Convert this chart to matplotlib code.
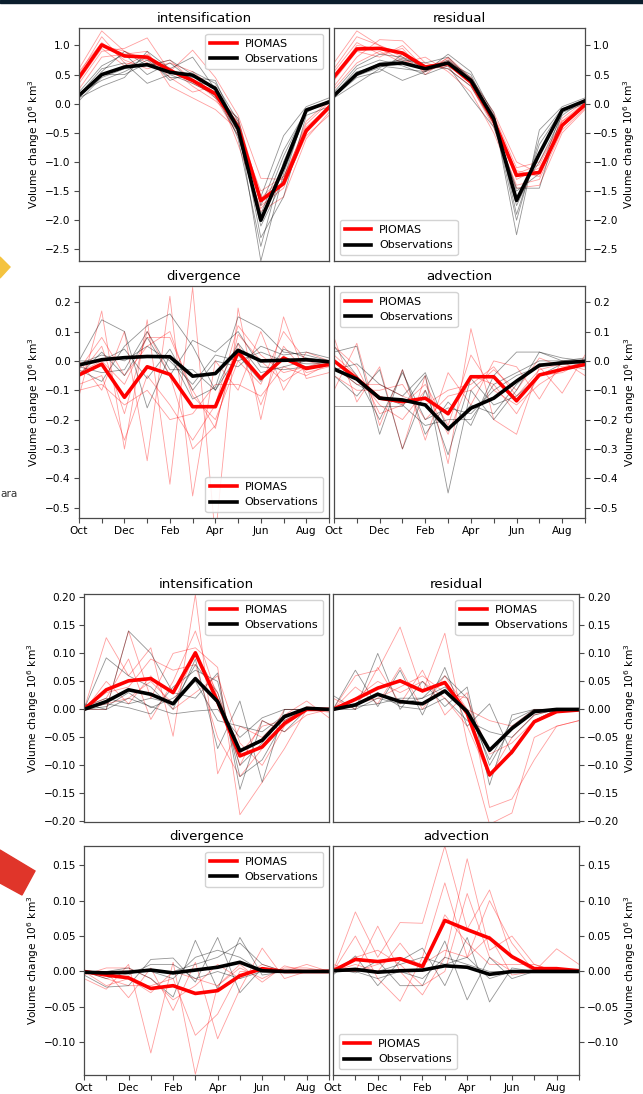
import matplotlib
matplotlib.use("Agg")
import matplotlib.pyplot as plt
from matplotlib.patches import Polygon, Rectangle
import numpy as np

plt.rcParams['font.family'] = ['DejaVu Sans']

W, H = 643, 1094
DPI = 100

# --- months on the x axis -------------------------------------------------
months = ['Oct', 'Nov', 'Dec', 'Jan', 'Feb', 'Mar', 'Apr', 'May', 'Jun', 'Jul', 'Aug', 'Sep']
month_labels = ['Oct', '', 'Dec', '', 'Feb', '', 'Apr', '', 'Jun', '', 'Aug', '']

# --- upper block: thickness budget terms ----------------------------------
int1_piomas = [0.45, 1.01, 0.82, 0.80, 0.57, 0.40, 0.17, -0.40, -1.66, -1.37, -0.46, -0.06]
int1_obs = [0.14, 0.50, 0.63, 0.67, 0.54, 0.49, 0.26, -0.43, -2.00, -1.09, -0.11, 0.03]
int1_piomas_members = [
    [0.60, 1.25, 0.90, 0.70, 0.62, 0.30, 0.05, -0.30, -1.75, -1.45, -0.50, -0.10],
    [0.35, 0.90, 0.95, 1.13, 0.55, 0.92, 0.45, -0.20, -1.28, -1.30, -0.35, 0.02],
    [0.50, 1.15, 0.70, 0.65, 0.75, 0.40, 0.10, -0.55, -1.85, -1.60, -0.60, -0.15],
    [0.25, 0.80, 0.85, 0.90, 0.30, 0.10, -0.10, -0.45, -1.50, -1.25, -0.40, -0.05],
    [0.55, 1.05, 0.75, 0.60, 0.70, 0.55, 0.25, -0.35, -1.70, -1.40, -0.55, -0.20],
    [0.40, 0.95, 0.65, 0.85, 0.45, 0.20, 0.30, -0.70, -1.80, -1.35, -0.30, 0.05],
    [0.45, 1.00, 0.90, 0.75, 0.60, 0.35, 0.15, -0.25, -1.62, -1.25, -0.50, -0.02],
]
int1_obs_members = [
    [0.10, 0.30, 0.45, 0.90, 0.60, 0.80, 0.25, -0.35, -2.70, -1.20, -0.15, 0.05],
    [0.20, 0.65, 0.85, 0.50, 0.70, 0.40, 0.20, -0.50, -1.60, -0.55, -0.05, 0.10],
    [0.05, 0.45, 0.60, 0.80, 0.40, 0.55, 0.35, -0.30, -2.30, -1.60, -0.20, -0.05],
    [0.15, 0.60, 0.70, 0.35, 0.50, 0.35, 0.15, -0.55, -1.90, -0.90, -0.10, 0.02],
    [0.18, 0.40, 0.55, 0.75, 0.45, 0.45, 0.40, -0.45, -2.10, -1.30, -0.08, 0.03],
    [0.12, 0.55, 0.90, 0.65, 0.75, 0.50, 0.10, -0.25, -1.75, -0.80, -0.12, 0.06],
    [0.16, 0.50, 0.50, 0.70, 0.55, 0.38, 0.30, -0.60, -2.45, -1.00, -0.10, 0.00],
]

res1_piomas = [0.46, 0.94, 0.95, 0.87, 0.63, 0.69, 0.37, -0.29, -1.23, -1.18, -0.37, -0.02]
res1_obs = [0.14, 0.51, 0.67, 0.70, 0.60, 0.70, 0.40, -0.26, -1.66, -0.86, -0.11, 0.05]
res1_piomas_members = [
    [0.70, 1.25, 1.00, 0.80, 0.55, 0.75, 0.40, -0.20, -1.10, -1.00, -0.30, 0.02],
    [0.30, 0.80, 1.10, 1.08, 0.70, 0.60, 0.30, -0.40, -1.40, -1.30, -0.45, -0.08],
    [0.55, 1.05, 0.85, 0.95, 0.50, 0.80, 0.45, -0.15, -1.00, -1.20, -0.25, 0.05],
    [0.25, 0.70, 0.90, 0.70, 0.80, 0.55, 0.20, -0.50, -1.45, -1.40, -0.50, -0.10],
    [0.60, 1.15, 1.00, 0.85, 0.65, 0.70, 0.35, -0.30, -1.30, -1.10, -0.40, 0.00],
    [0.40, 0.90, 0.80, 1.00, 0.60, 0.78, 0.42, -0.25, -1.20, -1.05, -0.30, -0.05],
    [0.45, 1.00, 0.95, 0.75, 0.58, 0.65, 0.38, -0.35, -1.15, -1.25, -0.35, 0.02],
]
res1_obs_members = [
    [0.10, 0.35, 0.60, 0.40, 0.55, 0.85, 0.55, -0.20, -2.25, -0.45, -0.05, 0.10],
    [0.20, 0.65, 0.85, 0.80, 0.65, 0.60, 0.30, -0.35, -1.45, -1.45, -0.15, 0.00],
    [0.12, 0.45, 0.55, 0.85, 0.60, 0.75, 0.45, -0.15, -1.90, -0.70, -0.10, 0.05],
    [0.15, 0.60, 0.75, 0.65, 0.50, 0.65, 0.10, -0.40, -1.60, -1.00, -0.20, 0.08],
    [0.18, 0.50, 0.70, 0.75, 0.70, 0.80, 0.40, -0.25, -2.00, -0.60, -0.08, 0.03],
    [0.10, 0.55, 0.65, 0.60, 0.55, 0.70, 0.50, -0.30, -1.50, -1.20, -0.12, 0.05],
    [0.14, 0.48, 0.62, 0.78, 0.62, 0.68, 0.35, -0.22, -1.75, -0.90, -0.10, 0.04],
]

div1_piomas = [-0.048, -0.011, -0.124, -0.020, -0.046, -0.156, -0.156, 0.030, -0.060, 0.010, -0.026, -0.012]
div1_obs = [-0.014, 0.004, 0.011, 0.015, 0.014, -0.052, -0.043, 0.036, 0.000, 0.002, 0.004, -0.003]
div1_piomas_members = [
    [-0.12, 0.17, -0.30, 0.14, -0.42, 0.25, -0.60, 0.18, -0.20, 0.15, -0.06, -0.04],
    [0.00, -0.10, 0.10, -0.34, 0.22, -0.46, 0.00, -0.10, 0.10, -0.10, 0.03, 0.00],
    [-0.05, 0.05, -0.18, 0.10, -0.05, -0.30, -0.22, 0.06, -0.15, 0.05, -0.04, -0.02],
    [-0.08, -0.05, -0.27, -0.05, -0.15, -0.27, -0.15, 0.12, 0.02, -0.04, -0.02, -0.01],
    [-0.03, 0.08, -0.05, 0.05, 0.10, -0.12, -0.20, 0.00, -0.08, 0.10, 0.00, -0.02],
    [-0.10, -0.08, -0.15, -0.10, -0.20, -0.18, -0.08, -0.08, -0.12, -0.02, -0.05, -0.01],
    [-0.04, 0.00, -0.08, 0.08, 0.08, -0.10, -0.23, 0.09, 0.00, -0.07, -0.02, 0.00],
]
div1_obs_members = [
    [0.00, 0.14, 0.10, -0.16, 0.02, -0.13, -0.09, 0.15, 0.11, 0.03, 0.02, 0.00],
    [-0.03, -0.07, 0.05, 0.12, 0.16, 0.05, -0.10, 0.02, -0.07, 0.04, 0.01, 0.00],
    [-0.05, 0.03, -0.05, 0.08, -0.05, 0.07, 0.03, 0.10, -0.02, -0.03, -0.02, -0.01],
    [0.00, 0.00, 0.04, -0.06, 0.04, -0.10, 0.00, -0.02, 0.05, 0.02, 0.03, 0.01],
    [-0.02, -0.04, -0.03, 0.10, -0.03, -0.03, -0.10, 0.06, -0.04, -0.02, 0.00, 0.00],
    [-0.01, 0.02, 0.00, 0.05, 0.00, -0.08, 0.02, 0.00, 0.03, 0.00, -0.01, -0.01],
]

adv1_piomas = [0.000, -0.060, -0.127, -0.139, -0.127, -0.180, -0.054, -0.054, -0.136, -0.048, -0.029, -0.012]
adv1_obs = [-0.028, -0.062, -0.127, -0.133, -0.150, -0.232, -0.161, -0.127, -0.069, -0.015, -0.007, -0.001]
adv1_piomas_members = [
    [0.08, -0.14, -0.02, -0.30, -0.05, -0.35, 0.11, -0.20, -0.25, -0.02, -0.11, 0.02],
    [-0.10, 0.06, -0.22, -0.03, -0.27, -0.04, -0.15, 0.00, -0.02, -0.13, 0.00, -0.05],
    [0.02, -0.05, -0.15, -0.20, -0.10, -0.25, -0.05, -0.08, -0.18, -0.05, -0.04, 0.00],
    [-0.05, -0.10, -0.10, -0.08, -0.20, -0.12, -0.10, -0.03, -0.10, 0.01, -0.02, -0.02],
    [0.05, -0.02, -0.18, -0.15, -0.08, -0.22, 0.02, -0.10, -0.15, -0.08, -0.03, 0.00],
    [-0.02, -0.08, -0.08, -0.12, -0.15, -0.10, -0.08, -0.02, -0.12, -0.03, -0.01, -0.03],
]
adv1_obs_members = [
    [-0.155, -0.155, -0.155, -0.155, -0.05, -0.45, -0.10, -0.20, -0.10, 0.03, 0.01, 0.00],
    [0.03, 0.05, -0.25, -0.03, -0.25, -0.14, -0.22, -0.05, 0.03, 0.03, 0.00, 0.01],
    [-0.05, -0.12, -0.03, -0.30, -0.10, -0.32, -0.06, -0.15, -0.12, -0.05, -0.01, -0.01],
    [0.05, -0.05, -0.20, -0.04, -0.20, -0.16, -0.18, -0.10, -0.05, -0.02, 0.00, 0.00],
    [-0.03, -0.01, -0.08, -0.12, -0.04, -0.24, -0.15, -0.18, -0.08, -0.01, -0.01, 0.00],
    [-0.02, -0.08, -0.12, -0.15, -0.22, -0.20, -0.20, -0.08, -0.04, 0.00, 0.00, 0.00],
]

# --- lower block: area budget terms ---------------------------------------
int2_piomas = [0.000, 0.035, 0.051, 0.055, 0.030, 0.101, 0.014, -0.083, -0.067, -0.025, 0.000, 0.000]
int2_obs = [0.000, 0.014, 0.035, 0.027, 0.010, 0.055, 0.014, -0.074, -0.055, -0.013, 0.002, 0.000]
int2_piomas_members = [
    [0.000, 0.128, 0.060, 0.110, -0.048, 0.205, -0.115, -0.030, -0.050, -0.010, 0.015, -0.015],
    [0.000, 0.000, 0.140, 0.020, 0.100, 0.110, 0.075, -0.188, -0.130, -0.070, 0.000, 0.000],
    [0.003, 0.020, 0.090, -0.018, 0.050, 0.140, 0.020, -0.100, -0.020, -0.040, -0.010, 0.000],
    [-0.003, 0.050, 0.010, 0.060, 0.000, 0.030, 0.060, -0.060, -0.100, -0.030, 0.000, 0.000],
    [0.000, 0.030, 0.040, 0.090, 0.070, 0.080, -0.050, -0.120, -0.070, 0.000, 0.000, -0.005],
    [0.000, 0.010, 0.020, 0.050, 0.010, 0.100, 0.030, -0.080, -0.030, -0.020, 0.005, 0.000],
]
int2_obs_members = [
    [0.000, 0.092, 0.060, 0.040, 0.000, 0.090, -0.070, 0.015, -0.130, 0.000, 0.000, 0.000],
    [0.010, 0.000, 0.140, 0.100, 0.030, 0.020, 0.065, -0.143, -0.020, -0.040, 0.000, 0.000],
    [0.000, 0.010, 0.003, -0.008, 0.040, 0.070, 0.050, -0.120, -0.090, -0.020, 0.000, 0.000],
    [0.000, 0.000, 0.020, 0.005, -0.008, -0.003, 0.000, -0.050, -0.015, 0.000, 0.000, 0.000],
    [0.005, 0.020, 0.010, 0.020, 0.010, 0.080, 0.030, -0.100, -0.060, -0.010, 0.000, 0.000],
    [0.000, 0.005, 0.030, 0.003, 0.020, 0.050, -0.020, -0.030, -0.040, -0.010, 0.000, 0.000],
]

res2_piomas = [0.000, 0.018, 0.038, 0.051, 0.033, 0.048, -0.007, -0.117, -0.076, -0.022, -0.004, -0.001]
res2_obs = [0.000, 0.008, 0.027, 0.014, 0.010, 0.033, -0.004, -0.073, -0.034, -0.004, 0.000, 0.000]
res2_piomas_members = [
    [0.000, 0.060, 0.070, 0.147, 0.030, 0.136, -0.060, -0.205, -0.185, -0.050, -0.030, -0.020],
    [0.020, 0.000, 0.075, 0.010, 0.070, -0.010, 0.030, -0.175, -0.160, -0.090, -0.030, -0.020],
    [0.000, 0.040, 0.010, 0.075, 0.000, 0.060, 0.000, -0.020, -0.030, 0.000, 0.000, 0.000],
    [0.000, 0.020, 0.050, 0.030, 0.050, 0.020, -0.030, -0.120, -0.050, -0.010, 0.000, 0.000],
    [0.000, 0.010, 0.020, 0.040, 0.060, 0.030, 0.020, -0.080, -0.060, -0.020, 0.000, 0.000],
]
res2_obs_members = [
    [0.025, 0.000, 0.100, 0.000, 0.050, 0.005, 0.040, -0.135, -0.010, 0.000, 0.000, 0.000],
    [0.000, 0.070, 0.005, 0.070, -0.010, 0.075, -0.030, 0.010, -0.080, -0.020, 0.000, 0.000],
    [0.000, 0.000, 0.020, 0.010, 0.020, 0.060, 0.020, -0.100, -0.030, 0.000, 0.000, 0.000],
    [0.000, 0.010, 0.030, 0.005, 0.000, 0.020, -0.020, -0.040, -0.050, -0.010, 0.000, 0.000],
    [0.000, 0.005, 0.010, 0.020, 0.020, 0.040, 0.000, -0.090, -0.020, 0.000, 0.000, 0.000],
]

div2_piomas = [0.000, -0.005, -0.009, -0.024, -0.020, -0.031, -0.027, -0.006, 0.004, 0.000, 0.000, 0.000]
div2_obs = [-0.001, -0.002, -0.001, 0.002, -0.002, 0.002, 0.006, 0.013, 0.001, 0.000, 0.000, 0.000]
div2_piomas_members = [
    [-0.010, -0.025, 0.010, -0.115, 0.013, -0.145, -0.020, 0.010, -0.015, 0.008, 0.000, 0.000],
    [0.000, 0.000, -0.037, 0.005, -0.055, 0.013, -0.095, -0.025, 0.033, -0.010, 0.000, 0.003],
    [0.000, -0.010, -0.020, -0.020, -0.010, -0.090, -0.060, 0.000, 0.000, 0.000, 0.010, 0.000],
    [-0.005, 0.005, 0.005, -0.010, -0.040, -0.020, 0.010, -0.010, 0.010, 0.000, 0.000, 0.000],
    [0.000, -0.020, -0.010, -0.030, 0.000, -0.010, -0.020, 0.005, -0.010, 0.005, 0.005, 0.000],
]
div2_obs_members = [
    [-0.005, -0.022, -0.020, 0.017, 0.019, -0.015, 0.048, -0.030, 0.005, 0.000, 0.000, 0.000],
    [0.000, 0.000, 0.005, -0.010, -0.036, 0.044, -0.025, 0.048, -0.005, 0.000, 0.000, 0.000],
    [0.000, -0.010, 0.000, 0.000, 0.000, 0.010, 0.020, 0.040, 0.010, 0.000, 0.000, 0.000],
    [0.000, 0.000, -0.005, 0.010, 0.010, -0.010, 0.000, -0.010, 0.000, 0.000, 0.000, 0.000],
    [0.000, -0.005, 0.000, 0.000, -0.010, 0.020, 0.030, 0.020, 0.000, 0.000, 0.000, 0.000],
]

adv2_piomas = [0.001, 0.017, 0.014, 0.018, 0.007, 0.072, 0.059, 0.047, 0.021, 0.004, 0.004, 0.001]
adv2_obs = [0.001, 0.003, -0.001, 0.001, 0.002, 0.008, 0.006, -0.004, 0.000, 0.000, 0.000, 0.000]
adv2_piomas_members = [
    [0.000, 0.084, 0.020, 0.069, 0.068, 0.177, 0.060, 0.115, 0.020, 0.000, 0.032, 0.010],
    [0.010, 0.000, 0.064, 0.000, -0.033, 0.020, 0.159, 0.030, 0.050, 0.010, 0.000, 0.000],
    [0.000, 0.050, -0.010, -0.042, 0.020, 0.125, 0.020, 0.100, 0.040, 0.000, 0.000, 0.000],
    [0.000, 0.020, 0.030, 0.010, -0.020, 0.000, 0.110, 0.020, 0.000, 0.000, 0.000, 0.000],
    [0.000, 0.010, 0.000, 0.040, 0.000, 0.080, 0.040, 0.010, 0.010, 0.010, 0.000, 0.000],
    [0.000, 0.000, 0.010, 0.020, 0.010, 0.030, 0.020, 0.050, -0.005, 0.000, 0.000, 0.000],
]
adv2_obs_members = [
    [-0.005, 0.022, -0.020, 0.015, 0.033, -0.020, 0.048, -0.043, 0.005, 0.000, 0.000, 0.000],
    [0.005, -0.002, 0.015, -0.020, -0.020, 0.043, -0.040, 0.020, -0.010, 0.000, 0.000, 0.000],
    [0.000, 0.000, 0.000, 0.010, 0.020, 0.010, 0.020, -0.010, 0.000, 0.000, 0.000, 0.000],
    [0.000, 0.000, -0.010, 0.000, -0.010, 0.020, 0.010, 0.000, 0.000, 0.000, 0.000, 0.000],
]

# --- panel layout (pixel boxes: left, top, right, bottom) -----------------
panels = [
    dict(title='intensification', box=(79, 28, 329, 261), side='left', xlab=False,
         ylim=(-2.7, 1.3), yticks=np.arange(-2.5, 1.01, 0.5), loc='upper right',
         p=int1_piomas, o=int1_obs, pm=int1_piomas_members, om=int1_obs_members),
    dict(title='residual', box=(334, 28, 585, 261), side='right', xlab=False,
         ylim=(-2.7, 1.3), yticks=np.arange(-2.5, 1.01, 0.5), loc='lower left',
         p=res1_piomas, o=res1_obs, pm=res1_piomas_members, om=res1_obs_members),
    dict(title='divergence', box=(79, 286, 329, 518), side='left', xlab=True,
         ylim=(-0.535, 0.255), yticks=np.arange(-0.5, 0.21, 0.1), loc='lower right',
         p=div1_piomas, o=div1_obs, pm=div1_piomas_members, om=div1_obs_members),
    dict(title='advection', box=(334, 286, 585, 518), side='right', xlab=True,
         ylim=(-0.535, 0.255), yticks=np.arange(-0.5, 0.21, 0.1), loc='upper left',
         p=adv1_piomas, o=adv1_obs, pm=adv1_piomas_members, om=adv1_obs_members),
    dict(title='intensification', box=(84, 594, 329, 822), side='left', xlab=False,
         ylim=(-0.201, 0.206), yticks=np.arange(-0.20, 0.201, 0.05), loc='upper right',
         p=int2_piomas, o=int2_obs, pm=int2_piomas_members, om=int2_obs_members),
    dict(title='residual', box=(333, 594, 579, 822), side='right', xlab=False,
         ylim=(-0.201, 0.206), yticks=np.arange(-0.20, 0.201, 0.05), loc='upper right',
         p=res2_piomas, o=res2_obs, pm=res2_piomas_members, om=res2_obs_members),
    dict(title='divergence', box=(84, 846, 329, 1075), side='left', xlab=True,
         ylim=(-0.146, 0.177), yticks=np.arange(-0.10, 0.151, 0.05), loc='upper right',
         p=div2_piomas, o=div2_obs, pm=div2_piomas_members, om=div2_obs_members),
    dict(title='advection', box=(333, 846, 579, 1075), side='right', xlab=True,
         ylim=(-0.146, 0.177), yticks=np.arange(-0.10, 0.151, 0.05), loc='lower left',
         p=adv2_piomas, o=adv2_obs, pm=adv2_piomas_members, om=adv2_obs_members),
]

YLABEL = 'Volume change $10^6$ km$^3$'
SPINE = '#4a4a4a'
TICK_FS = 7.6
x = np.arange(len(months))

fig = plt.figure(figsize=(W / DPI, H / DPI), dpi=DPI)
fig.patch.set_facecolor('white')

for pnl in panels:
    l, t, r, b = pnl['box']
    ax = fig.add_axes([l / W, 1 - b / H, (r - l) / W, (b - t) / H])
    for m in pnl['pm']:
        ax.plot(x, m, color='red', lw=0.6, alpha=0.38)
    for m in pnl['om']:
        ax.plot(x, m, color='black', lw=0.6, alpha=0.42)
    ax.plot(x, pnl['p'], color='red', lw=2.6, label='PIOMAS', solid_joinstyle='round')
    ax.plot(x, pnl['o'], color='black', lw=2.6, label='Observations', solid_joinstyle='round')

    ax.set_xlim(0, len(months) - 1)
    ax.set_ylim(*pnl['ylim'])
    ax.set_yticks(pnl['yticks'])
    ax.set_title(pnl['title'], fontsize=9.6, pad=4)

    if pnl['xlab']:
        ax.set_xticks(x)
        ax.set_xticklabels(month_labels)
    else:
        ax.set_xticks([])

    if pnl['side'] == 'right':
        ax.yaxis.tick_right()
        ax.yaxis.set_label_position('right')
    ax.set_ylabel(YLABEL, fontsize=TICK_FS, labelpad=2)

    ax.tick_params(labelsize=TICK_FS, color=SPINE, length=3.5, width=0.8, pad=2.5)
    for s in ax.spines.values():
        s.set_color(SPINE)
        s.set_linewidth(0.9)

    ax.legend(loc=pnl['loc'], fontsize=8.0, handlelength=2.4, borderpad=0.45,
              labelspacing=0.5, handletextpad=0.7, framealpha=0.85, edgecolor='#cccccc')

# page furniture around the figure
fig.patches.append(Rectangle((0, 1 - 3 / H), 1, 3 / H, transform=fig.transFigure,
                             color='#0b1e2d', zorder=5))
yellow = [(0, 257), (10, 267), (0, 278)]
fig.patches.append(Polygon([(px / W, 1 - py / H) for px, py in yellow],
                           closed=True, transform=fig.transFigure,
                           color='#f4c33f', zorder=5))
red_tab = [(0, 850), (35, 871), (22, 895), (0, 883)]
fig.patches.append(Polygon([(px / W, 1 - py / H) for px, py in red_tab],
                           closed=True, transform=fig.transFigure,
                           color='#e0352a', zorder=5))
fig.text(0 / W, 1 - 494 / H, 'ara', fontsize=7.6, color='#333333', va='center', ha='left')

fig.savefig('out.png', dpi=DPI)
